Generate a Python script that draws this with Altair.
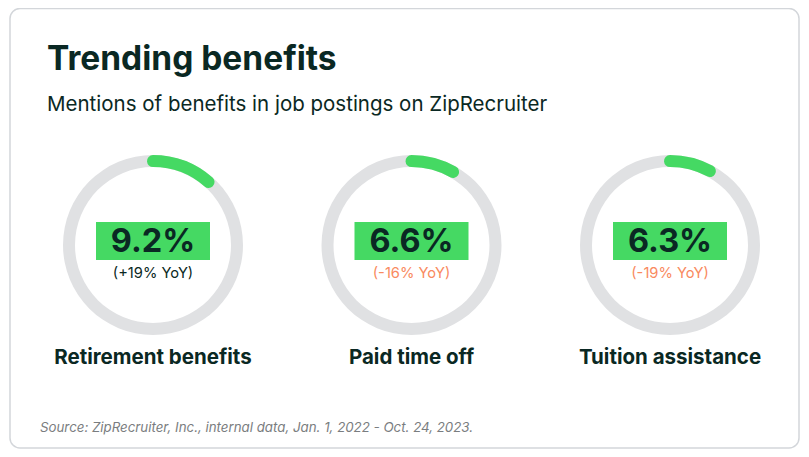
import altair as alt
import pandas as pd
import math

# ---- data ----
benefits = ["Retirement benefits", "Paid time off", "Tuition assistance"]
shares = [9.2, 6.6, 6.3]          # % of job postings mentioning the benefit
yoy = [19, -16, -19]              # year-over-year change, %
gauge_max = 80                    # value that would fill the full ring

title = "Trending benefits"
subtitle = "Mentions of benefits in job postings on ZipRecruiter"
source = "Source: ZipRecruiter, Inc., internal data, Jan. 1, 2022 - Oct. 24, 2023."

DARK = "#0a2823"
GREEN = "#45d963"
RING = "#e0e1e3"
ORANGE = "#f98a60"
FONT = "Inter"

df = pd.DataFrame({
    "name": benefits,
    "share": shares,
    "yoy": yoy,
    "share_txt": [f"{v:.1f}%" for v in shares],
    "yoy_txt": [f"({v:+d}% YoY)" for v in yoy],
})

W, H = 793, 441
cap = 6 / 84  # rounded-cap overhang in radians

xenc = alt.X("name:N", sort=benefits, axis=None,
             scale=alt.Scale(type="point", range=[145, 662], padding=0))
CY = 237

base = alt.Chart(df)

card = alt.Chart(pd.DataFrame({"k": [0]})).mark_rect(
    fill="white", stroke="#d3d6da", strokeWidth=1.5, cornerRadius=10
).encode(x=alt.value(2), x2=alt.value(791), y=alt.value(0.5), y2=alt.value(440))

ring = base.mark_arc(radius=90, radius2=78, color=RING).encode(
    x=xenc, y=alt.value(CY), theta=alt.value(0), theta2=alt.value(2 * math.pi)
)

arc = base.transform_calculate(
    t0=f"{-cap}",
    t1=f"datum.share / {gauge_max} * 2 * PI + {cap}",
).mark_arc(radius=90, radius2=78, cornerRadius=6, color=GREEN).encode(
    x=xenc, y=alt.value(CY),
    theta=alt.Theta("t0:Q", scale=None),
    theta2="t1:Q",
)

box = base.mark_rect(color=GREEN, xOffset=-57, x2Offset=57).encode(
    x=xenc, x2="name:N", y=alt.value(214), y2=alt.value(252)
)

val = base.mark_text(font=FONT, fontSize=32.5, fontWeight="bold", color=DARK,
                     baseline="middle").encode(
    x=xenc, y=alt.value(234), text="share_txt:N"
)

yoy_t = base.mark_text(font=FONT, fontSize=14.7, baseline="middle").encode(
    x=xenc, y=alt.value(265.5), text="yoy_txt:N",
    color=alt.condition("datum.yoy > 0", alt.value(DARK), alt.value(ORANGE)),
)

lab = base.mark_text(font=FONT, fontSize=20.5, fontWeight="bold", color=DARK,
                     baseline="middle").encode(
    x=xenc, y=alt.value(349.5), text="name:N"
)

one = pd.DataFrame({"t": [title], "s": [subtitle], "src": [source]})
t1 = alt.Chart(one).mark_text(font=FONT, fontSize=33.5, fontWeight="bold", color=DARK,
                               align="left", baseline="alphabetic").encode(
    x=alt.value(39), y=alt.value(62), text="t:N")
t2 = alt.Chart(one).mark_text(font=FONT, fontSize=20.5, color=DARK,
                               align="left", baseline="alphabetic").encode(
    x=alt.value(39), y=alt.value(103), text="s:N")
t3 = alt.Chart(one).mark_text(font=FONT, fontSize=13.3, fontStyle="italic", color="#7a7d80",
                               align="left", baseline="middle").encode(
    x=alt.value(32), y=alt.value(420), text="src:N")

chart = alt.layer(card, ring, arc, box, val, yoy_t, lab, t1, t2, t3).properties(
    width=W, height=H, padding=0, autosize=alt.AutoSizeParams(type="none"),
    background="white",
).configure_view(stroke=None)

chart.save("out.html", embed_options={"renderer": "svg", "actions": False})
